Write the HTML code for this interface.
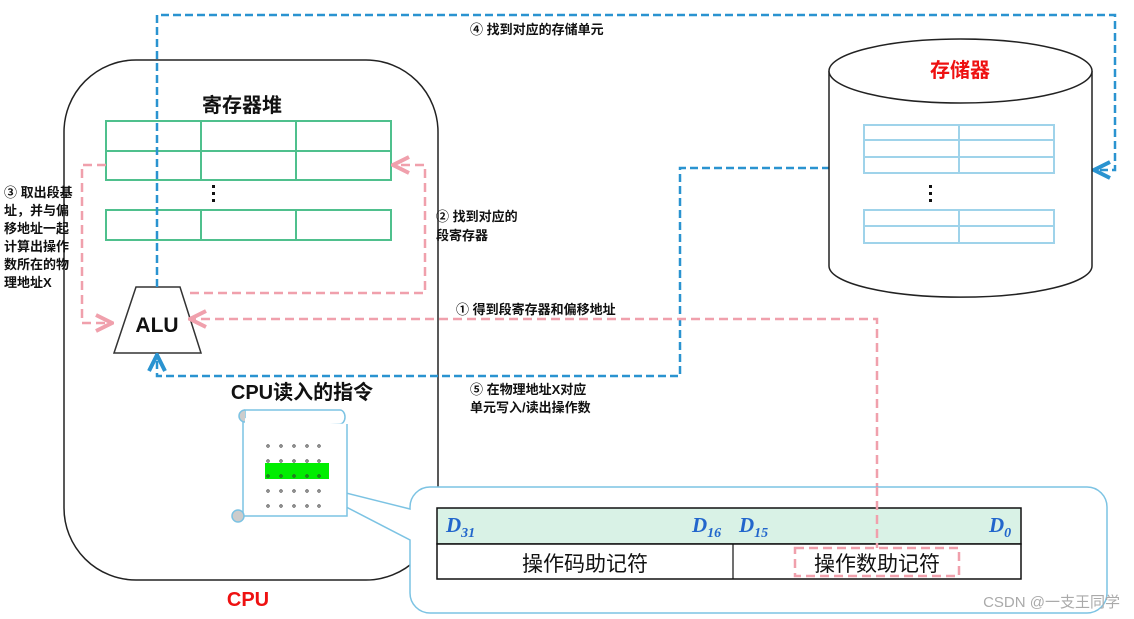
<!DOCTYPE html>
<html><head><meta charset="utf-8"><style>
html,body{margin:0;padding:0;background:#fff;}
svg{display:block;font-family:"Liberation Sans","Noto Sans CJK SC",sans-serif;}
</style></head><body>
<svg width="1134" height="619" viewBox="0 0 1134 619" xmlns="http://www.w3.org/2000/svg">
<defs>
<marker id="ab" viewBox="0 0 10 10" refX="9" refY="5" markerWidth="8" markerHeight="8" orient="auto-start-reverse"><path d="M1,1 L9,5 L1,9" fill="none" stroke="#2a93d0" stroke-width="2"/></marker>
<marker id="ap" viewBox="0 0 10 10" refX="9" refY="5" markerWidth="8" markerHeight="8" orient="auto-start-reverse"><path d="M1,1 L9,5 L1,9" fill="none" stroke="#f0a0ac" stroke-width="2"/></marker>
</defs>
<rect x="64" y="60" width="374" height="520" rx="72" fill="#fff" stroke="#222" stroke-width="1.5"/>
<text x="248" y="606" font-size="20" font-weight="bold" fill="#ee1111" text-anchor="middle">CPU</text>
<g fill="none" stroke="#4fc08d" stroke-width="2">
<rect x="106" y="121" width="285" height="59"/><line x1="106" y1="151" x2="391" y2="151"/>
<line x1="201" y1="121" x2="201" y2="180"/><line x1="296" y1="121" x2="296" y2="180"/>
<rect x="106" y="210" width="285" height="30"/>
<line x1="201" y1="210" x2="201" y2="240"/><line x1="296" y1="210" x2="296" y2="240"/>
</g>
<text x="242" y="112" font-size="20" font-weight="bold" text-anchor="middle" fill="#111">寄存器堆</text>
<g fill="#111"><rect x="212" y="185" width="3" height="3"/><rect x="212" y="192" width="3" height="3"/><rect x="212" y="199" width="3" height="3"/></g>
<polygon points="136,287 180,287 201,353 114,353" fill="#fff" stroke="#333" stroke-width="1.5"/>
<text x="157" y="332" font-size="21" font-weight="bold" text-anchor="middle" fill="#111">ALU</text>
<g fill="none" stroke="#2a93d0" stroke-width="2.5" stroke-dasharray="8,4">
<path d="M157,287 V15 H1115 V170 H1094" marker-end="url(#ab)"/>
<path d="M830,168 H680 V376 H157 V355" marker-end="url(#ab)"/>
</g>
<g fill="none" stroke="#f0a0ac" stroke-width="2.5" stroke-dasharray="9,5">
<path d="M106,165 H82 V323 H112" marker-end="url(#ap)"/>
<path d="M190,293 H425 V165 H393" marker-end="url(#ap)"/>
<path d="M877,548 V319 H190" marker-end="url(#ap)"/>
</g>
<g font-size="13" font-weight="bold" fill="#111">
<text x="470" y="34">④ 找到对应的存储单元</text>
<text x="4" y="197">③ 取出段基</text><text x="4" y="215">址，并与偏</text><text x="4" y="233">移地址一起</text><text x="4" y="251">计算出操作</text><text x="4" y="269">数所在的物</text><text x="4" y="287">理地址X</text>
<text x="436" y="221">② 找到对应的</text><text x="436" y="240">段寄存器</text>
<text x="456" y="314">① 得到段寄存器和偏移地址</text>
<text x="470" y="394">⑤ 在物理地址X对应</text><text x="470" y="412">单元写入/读出操作数</text>
</g>
<text x="302" y="399" font-size="20" font-weight="bold" text-anchor="middle" fill="#111">CPU读入的指令</text>
<path d="M829,71 V266 A131,31 0 0 0 1092,266 V71" fill="#fff" stroke="#222" stroke-width="1.5"/>
<ellipse cx="960.5" cy="71" rx="131.5" ry="32" fill="#fff" stroke="#222" stroke-width="1.5"/>
<text x="960" y="77" font-size="20" font-weight="bold" text-anchor="middle" fill="#ee1111">存储器</text>
<g fill="none" stroke="#9fd3ea" stroke-width="2">
<rect x="864" y="125" width="190" height="48"/><line x1="864" y1="140" x2="1054" y2="140"/><line x1="864" y1="157" x2="1054" y2="157"/><line x1="959" y1="125" x2="959" y2="173"/>
<rect x="864" y="210" width="190" height="33"/><line x1="864" y1="226" x2="1054" y2="226"/><line x1="959" y1="210" x2="959" y2="243"/>
</g>
<g fill="#111"><rect x="929" y="185" width="3" height="3"/><rect x="929" y="192" width="3" height="3"/><rect x="929" y="199" width="3" height="3"/></g>
<path d="M430,487 H1087 A20,20 0 0 1 1107,507 V593 A20,20 0 0 1 1087,613 H430 A20,20 0 0 1 410,593 V540 L294,480 L410,509 V507 A20,20 0 0 1 430,487 Z" fill="#fff" stroke="#7cc3e3" stroke-width="1.5"/>
<g stroke="#7cc3e3" stroke-width="1.5" fill="#fff">
<path d="M245,410 H340 A5,7 0 0 1 340,424 H245 Z"/>
<path d="M243,418 V516 H347 V424"/>
<path d="M245,410 A6,6 0 0 0 245,422" fill="#ccc"/>
<circle cx="238" cy="516" r="6" fill="#ccc"/>
</g>
<rect x="265" y="463" width="64" height="16" fill="#00ee00"/>
<g fill="none" stroke="#333" stroke-width="0.8">
<circle cx="268" cy="446" r="1.2"/><circle cx="281" cy="446" r="1.2"/><circle cx="294" cy="446" r="1.2"/><circle cx="307" cy="446" r="1.2"/><circle cx="319" cy="446" r="1.2"/>
<circle cx="268" cy="461" r="1.2"/><circle cx="281" cy="461" r="1.2"/><circle cx="294" cy="461" r="1.2"/><circle cx="307" cy="461" r="1.2"/><circle cx="319" cy="461" r="1.2"/>
<circle cx="268" cy="476" r="1.2"/><circle cx="281" cy="476" r="1.2"/><circle cx="294" cy="476" r="1.2"/><circle cx="307" cy="476" r="1.2"/><circle cx="319" cy="476" r="1.2"/>
<circle cx="268" cy="491" r="1.2"/><circle cx="281" cy="491" r="1.2"/><circle cx="294" cy="491" r="1.2"/><circle cx="307" cy="491" r="1.2"/><circle cx="319" cy="491" r="1.2"/>
<circle cx="268" cy="506" r="1.2"/><circle cx="281" cy="506" r="1.2"/><circle cx="294" cy="506" r="1.2"/><circle cx="307" cy="506" r="1.2"/><circle cx="319" cy="506" r="1.2"/>
</g>
<rect x="437" y="508" width="584" height="36" fill="#d9f2e6" stroke="#111" stroke-width="1.5"/>
<rect x="437" y="544" width="584" height="35" fill="#fff" stroke="#111" stroke-width="1.5"/>
<line x1="733" y1="544" x2="733" y2="579" stroke="#111" stroke-width="1.2"/>
<g font-family="Liberation Serif,serif" font-style="italic" font-weight="bold" fill="#2266cc">
<text x="446" y="532" font-size="21">D<tspan font-size="14" dy="5">31</tspan></text>
<text x="692" y="532" font-size="21">D<tspan font-size="14" dy="5">16</tspan></text>
<text x="739" y="532" font-size="21">D<tspan font-size="14" dy="5">15</tspan></text>
<text x="989" y="532" font-size="21">D<tspan font-size="14" dy="5">0</tspan></text>
</g>
<line x1="877" y1="487" x2="877" y2="548" stroke="#f0a0ac" stroke-width="2.5" stroke-dasharray="9,5"/>
<text x="585" y="571" font-size="21" text-anchor="middle" fill="#111">操作码助记符</text>
<rect x="795" y="548" width="164" height="28" fill="none" stroke="#f0a0ac" stroke-width="2.5" stroke-dasharray="9,5"/>
<text x="877" y="571" font-size="21" text-anchor="middle" fill="#111">操作数助记符</text>
<text x="1120" y="607" font-size="15" text-anchor="end" fill="#aaa">CSDN @一支王同学</text>
</svg>
</body></html>
